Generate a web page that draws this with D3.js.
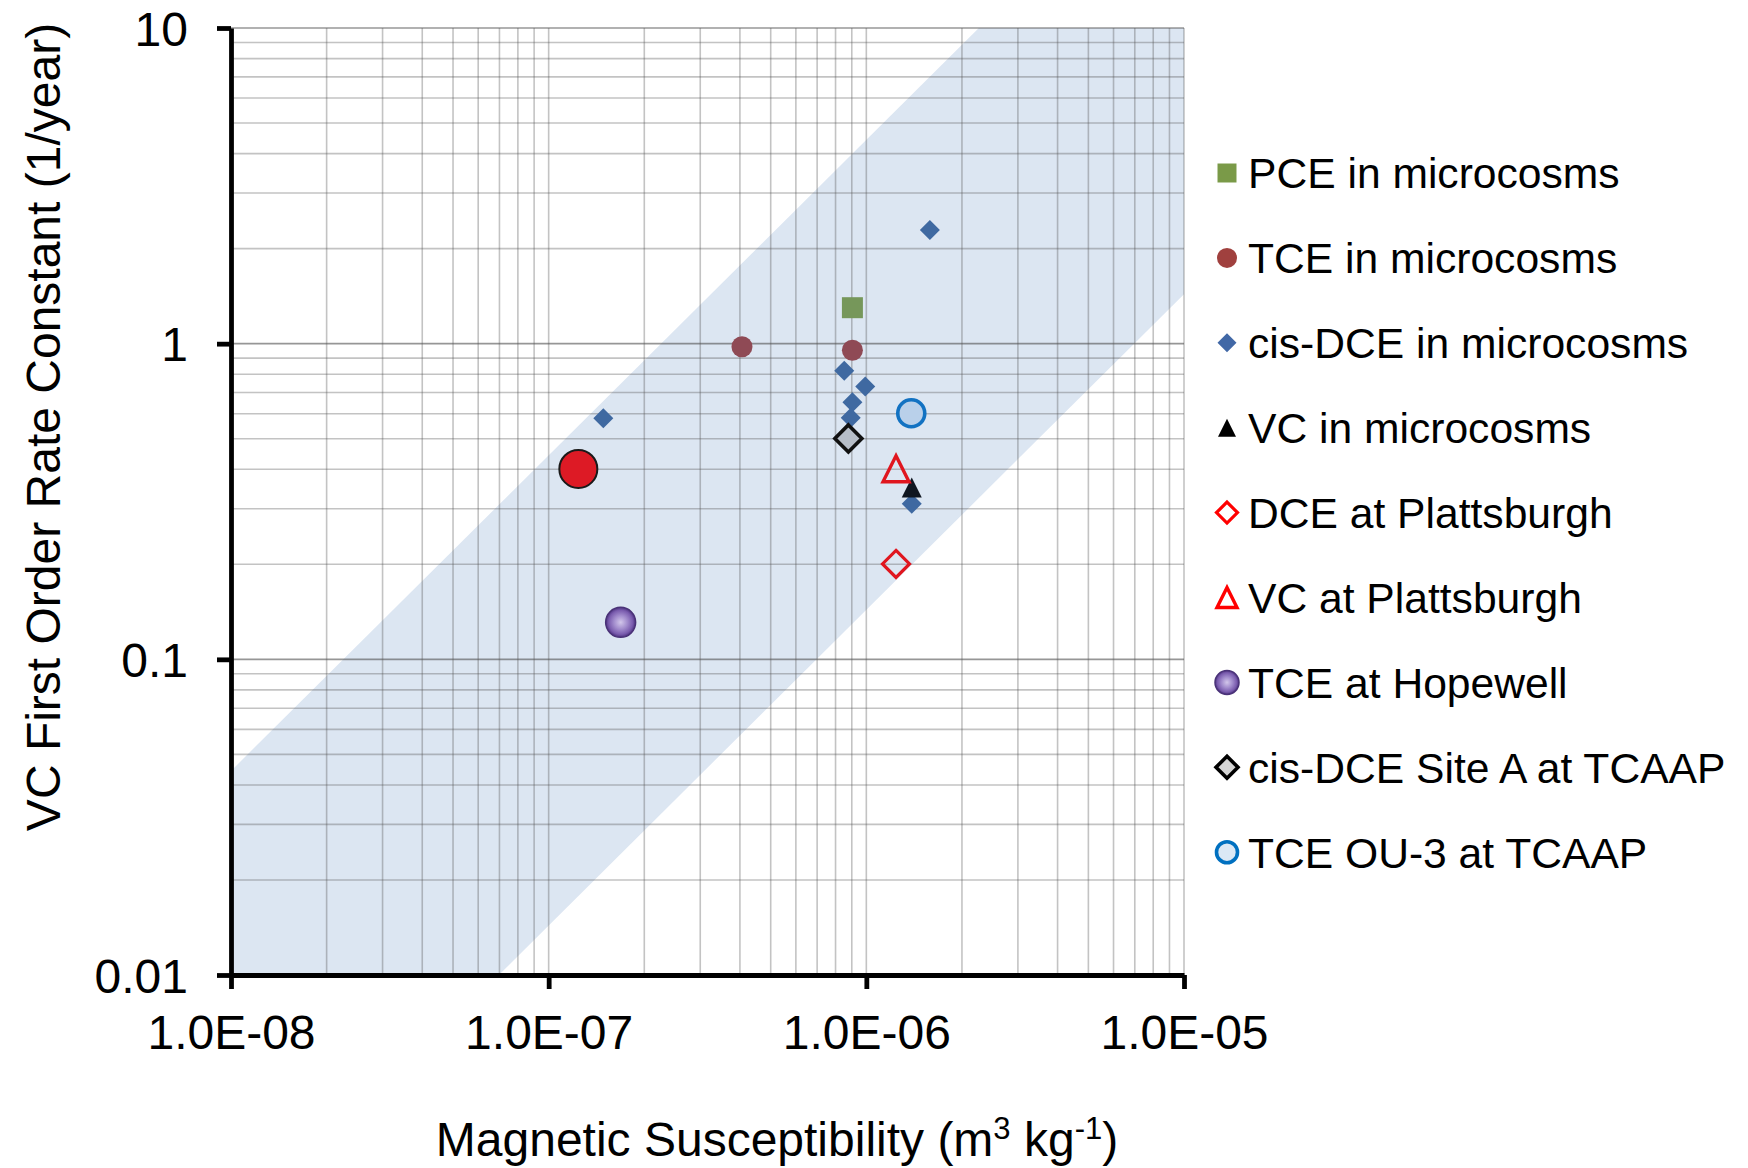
<!DOCTYPE html>
<html lang="en">
<head>
<meta charset="UTF-8" />
<title>VC rate constant vs magnetic susceptibility</title>
<style>
body{margin:0;background:#fff;}
svg{display:block;font-family:"Liberation Sans",Arial,sans-serif;}
</style>
</head>
<body>
<svg id="chart" width="1748" height="1168"></svg>
<script src="https://cdn.jsdelivr.net/npm/d3@7/dist/d3.min.js"></script>
<script>
// legend entries, in order
const seriesNames = ["PCE in microcosms","TCE in microcosms","cis-DCE in microcosms","VC in microcosms",
  "DCE at Plattsburgh","VC at Plattsburgh","TCE at Hopewell","cis-DCE Site A at TCAAP","TCE OU-3 at TCAAP"];

// values (x = m3/kg, y = 1/year)
const pceX = [9.04e-7],            pceY = [1.30];
const tceX = [4.06e-7, 9.04e-7],   tceY = [0.978, 0.953];
const cisX = [1.486e-7, 1.585e-6, 8.52e-7, 9.92e-7, 9.04e-7, 8.93e-7, 1.39e-6];
const cisY = [0.580, 2.29, 0.821, 0.731, 0.652, 0.583, 0.311];
const vcX = [1.39e-6],             vcY = [0.350];
const dcePlX = [1.24e-6],          dcePlY = [0.2005];
const vcPlX = [1.24e-6],           vcPlY = [0.4015];
const hopeX = [1.685e-7],          hopeY = [0.131];
const siteAX = [8.78e-7],          siteAY = [0.501];
const ou3X = [1.385e-6],           ou3Y = [0.602];
const extraX = [1.24e-7],          extraY = [0.401];   // big red dot, not in legend

// shaded band (corners in data units)
const bandX = [1e-8, 2.26e-6, 1e-5, 1e-5, 6.97e-8, 1e-8];
const bandY = [0.0443, 10, 10, 1.435, 0.01, 0.01];

const xTicks = [1e-8, 1e-7, 1e-6, 1e-5];
const xTickLabels = ["1.0E-08","1.0E-07","1.0E-06","1.0E-05"];
const yTicks = [0.01, 0.1, 1, 10];
const yTickLabels = ["0.01","0.1","1","10"];

const svg = d3.select('#chart');
const L = 231, R = 1184, T = 28, B = 975;
const x = d3.scaleLog().domain([1e-8, 1e-5]).range([L, R]);
const y = d3.scaleLog().domain([0.01, 10]).range([B, T]);

// band
svg.append('path')
  .datum(bandX.map((d, i) => [d, bandY[i]]))
  .attr('d', d3.line().x(d => x(d[0])).y(d => y(d[1])))
  .attr('fill', '#dce6f2');

// grid: minor lines 1..9 in each decade
function decadeSteps(lo, hi){
  let out = [];
  for (let e = Math.log10(lo); e < Math.log10(hi); e++)
    for (let k = 1; k < 10; k++) out.push(k * Math.pow(10, e));
  out.push(hi);
  return out;
}
const grid = svg.append('g');
grid.selectAll('.gx').data(decadeSteps(1e-8, 1e-5)).enter().append('line')
  .attr('x1', d => x(d)).attr('x2', d => x(d)).attr('y1', T).attr('y2', B)
  .attr('stroke', '#505050').attr('stroke-opacity', 0.34).attr('stroke-width', 1.6);
grid.selectAll('.gy').data(decadeSteps(0.01, 10)).enter().append('line')
  .attr('x1', L).attr('x2', R).attr('y1', d => y(d)).attr('y2', d => y(d))
  .attr('stroke', '#505050')
  .attr('stroke-opacity', d => yTicks.includes(d) ? 0.6 : 0.34)
  .attr('stroke-width', 1.6);

// marker shapes, s = full width
function shapePath(shape, s){
  const h = s / 2;
  if (shape === 'square') return `M${-h},${-h}H${h}V${h}H${-h}Z`;
  if (shape === 'diamond') return `M0,${-h}L${h},0L0,${h}L${-h},0Z`;
  if (shape === 'triangle') return `M0,${-h}L${h},${h}L${-h},${h}Z`;
  return d3.arc()({innerRadius: 0, outerRadius: h, startAngle: 0, endAngle: 2 * Math.PI});
}

const defs = svg.append('defs');
const grad = defs.append('radialGradient').attr('id', 'purp').attr('cx', '50%').attr('cy', '50%').attr('r', '50%');
grad.append('stop').attr('offset', '0%').attr('stop-color', '#d2c6ea');
grad.append('stop').attr('offset', '45%').attr('stop-color', '#a28ccd');
grad.append('stop').attr('offset', '80%').attr('stop-color', '#7a5cae');
grad.append('stop').attr('offset', '100%').attr('stop-color', '#4d3380');

// plot style / legend style per series
const series = [
  {xs: pceX, ys: pceY, shape: 'square', size: 21, fill: '#76975a', legFill: '#7a9a48', stroke: 'none', sw: 0, legSize: 19},
  {xs: tceX, ys: tceY, shape: 'circle', size: 21, fill: '#8f4a55', legFill: '#a0403e', stroke: 'none', sw: 0, legSize: 20},
  {xs: cisX, ys: cisY, shape: 'diamond', size: 20, fill: '#3f69a1', legFill: '#4168a6', stroke: 'none', sw: 0, legSize: 19},
  {xs: vcX, ys: vcY, shape: 'triangle', size: 20, fill: '#0f1620', legFill: '#000', stroke: 'none', sw: 0, legSize: 18},
  {xs: dcePlX, ys: dcePlY, shape: 'diamond', size: 27, fill: 'none', legFill: 'none', stroke: '#e0161f', legStroke: '#ff0000', sw: 3.2, legSize: 21},
  {xs: vcPlX, ys: vcPlY, shape: 'triangle', size: 26, fill: 'none', legFill: 'none', stroke: '#e0161f', legStroke: '#ff0000', sw: 3.4, legSize: 20},
  {xs: hopeX, ys: hopeY, shape: 'circle', size: 30, fill: 'url(#purp)', legFill: 'url(#purp)', stroke: '#4a3278', sw: 1.5, legSize: 24},
  {xs: siteAX, ys: siteAY, shape: 'diamond', size: 27, fill: '#b7bec8', legFill: '#d4d4d4', stroke: '#111', legStroke: '#000', sw: 3.6, legSize: 22},
  {xs: ou3X, ys: ou3Y, shape: 'circle', size: 27, fill: '#b9d0ea', legFill: '#dbe8f5', stroke: '#1272c2', legStroke: '#0070c0', sw: 3.6, legSize: 21},
  {xs: extraX, ys: extraY, shape: 'circle', size: 38, fill: '#dd1a25', stroke: '#1a1a1a', sw: 2, legend: false}
];

const marks = svg.append('g');
series.forEach(s => {
  marks.selectAll(null).data(s.xs.map((d, i) => [d, s.ys[i]])).enter().append('path')
    .attr('transform', d => `translate(${x(d[0])},${y(d[1])})`)
    .attr('d', shapePath(s.shape, s.size))
    .attr('fill', s.fill).attr('stroke', s.stroke).attr('stroke-width', s.sw);
});

// axes
const fs = 48;
const xAxis = svg.append('g').attr('transform', `translate(0,${B})`)
  .call(d3.axisBottom(x).tickValues(xTicks).tickSize(14).tickSizeOuter(0).tickPadding(26)
    .tickFormat((d, i) => xTickLabels[i]));
const yAxis = svg.append('g').attr('transform', `translate(${L},0)`)
  .call(d3.axisLeft(y).tickValues(yTicks).tickSize(14).tickSizeOuter(0).tickPadding(29)
    .tickFormat((d, i) => yTickLabels[i]));
[xAxis, yAxis].forEach(a => {
  a.select('.domain').attr('stroke', '#000').attr('stroke-width', 4.8);
  a.selectAll('.tick line').attr('stroke', '#000').attr('stroke-width', 4.8);
  a.selectAll('.tick text').attr('fill', '#000').style('font-size', fs + 'px')
    .style('font-family', '"Liberation Sans",Arial,sans-serif');
});
yAxis.selectAll('.tick text').attr('dy', '0.36em');

// axis titles
const xt = svg.append('text').attr('x', 777).attr('y', 1156).attr('text-anchor', 'middle')
  .style('font-size', fs + 'px');
xt.append('tspan').text('Magnetic Susceptibility (m');
xt.append('tspan').text('3').attr('dy', -17).style('font-size', '31px');
xt.append('tspan').text(' kg').attr('dy', 17);
xt.append('tspan').text('-1').attr('dy', -17).style('font-size', '31px');
xt.append('tspan').text(')').attr('dy', 17);

svg.append('text').attr('transform', 'translate(60,427) rotate(-90)').attr('text-anchor', 'middle')
  .style('font-size', fs + 'px').text('VC First Order Rate Constant (1/year)');

// legend
const legRows = series.filter(s => s.legend !== false).map((s, i) => ({s, name: seriesNames[i]}));
const leg = svg.append('g').attr('transform', 'translate(1227,173)');
const rows = leg.selectAll('g').data(legRows).enter().append('g')
  .attr('transform', (d, i) => `translate(0,${i * 84.9})`);
rows.append('path')
  .attr('d', d => shapePath(d.s.shape, d.s.legSize))
  .attr('fill', d => d.s.legFill)
  .attr('stroke', d => d.s.legStroke || d.s.stroke)
  .attr('stroke-width', d => d.s.sw);
rows.append('text').attr('x', 21).attr('dy', '0.36em').style('font-size', '42.6px').text(d => d.name);
</script>
</body>
</html>
